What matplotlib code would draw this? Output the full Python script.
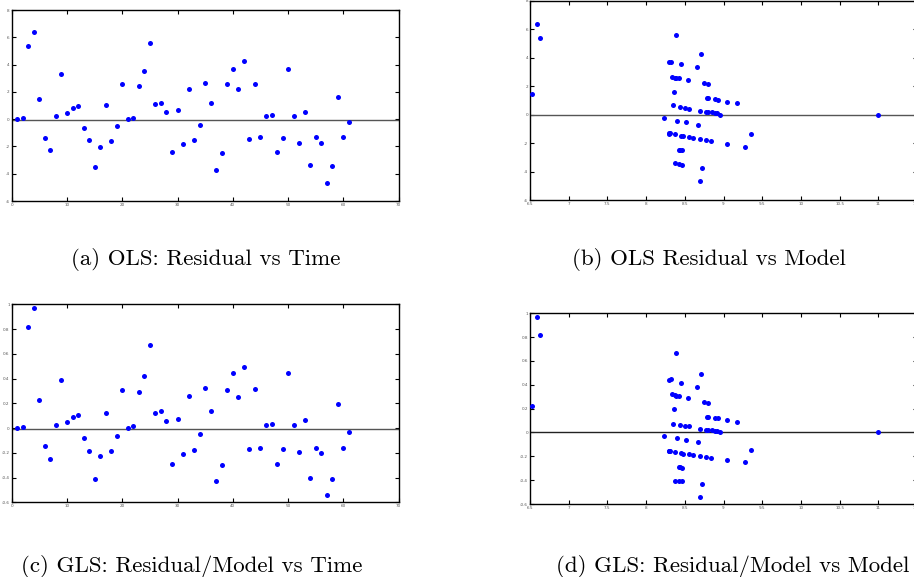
import matplotlib
matplotlib.use('Agg')
import matplotlib.pyplot as plt
import numpy as np
from matplotlib.ticker import FuncFormatter

# time index of the 61 observations
time = list(range(1, 62))

ols_resid = [0.0, 0.1, 5.37, 6.41, 1.49, -1.37, -2.29, 0.2, 3.34, 0.44,
             0.80, 0.93, -0.68, -1.56, -3.49, -2.07, 1.05, -1.61, -0.51, 2.56,
             0.02, 0.12, 2.44, 3.54, 5.61, 1.10, 1.20, 0.49, -2.44, 0.66,
             -1.85, 2.22, -1.49, -0.41, 2.66, 1.20, -3.73, -2.46, 2.59, 3.68,
             2.20, 4.29, -1.46, 2.61, -1.32, 0.22, 0.29, -2.44, -1.37, 3.71,
             0.22, -1.71, 0.56, -3.37, -1.29, -1.78, -4.68, -3.44, 1.63, -1.29,
             -0.24]

gls_resid = [0.0, 0.01, 0.815, 0.973, 0.226, -0.148, -0.247, 0.022, 0.384, 0.051,
             0.089, 0.102, -0.081, -0.183, -0.411, -0.228, 0.118, -0.188, -0.062, 0.304,
             0.003, 0.016, 0.288, 0.417, 0.669, 0.124, 0.134, 0.056, -0.29, 0.075,
             -0.21, 0.255, -0.177, -0.048, 0.32, 0.134, -0.43, -0.296, 0.309, 0.441,
             0.25, 0.492, -0.172, 0.312, -0.159, 0.024, 0.032, -0.29, -0.167, 0.446,
             0.024, -0.196, 0.065, -0.403, -0.159, -0.204, -0.543, -0.409, 0.194, -0.159,
             -0.03]

model = [11.0, 8.92, 6.628, 6.594, 6.526, 9.36, 9.28, 8.85, 8.658, 8.55,
         9.175, 9.04, 8.67, 8.56, 8.46, 9.04, 8.93, 8.60, 8.51, 8.42,
         8.95, 8.885, 8.54, 8.457, 8.38, 8.89, 8.79, 8.50, 8.42, 8.346,
         8.84, 8.75, 8.48, 8.40, 8.33, 8.80, 8.72, 8.46, 8.389, 8.30,
         8.795, 8.709, 8.445, 8.372, 8.30, 8.78, 8.70, 8.44, 8.37, 8.32,
         8.80, 8.69, 8.44, 8.37, 8.31, 8.77, 8.69, 8.43, 8.36, 8.30,
         8.237]

captions = ['(a) OLS: Residual vs Time', '(b) OLS Residual vs Model',
            '(c) GLS: Residual/Model vs Time', '(d) GLS: Residual/Model vs Model']

time_ticks = [0, 10, 20, 30, 40, 50, 60, 70]
model_ticks = [6.5, 7, 7.5, 8, 8.5, 9, 9.5, 10, 10.5, 11, 11.5]
ols_ticks = [-6, -4, -2, 0, 2, 4, 6, 8]
gls_ticks = [-0.6, -0.4, -0.2, 0, 0.2, 0.4, 0.6, 0.8, 1]


def style(ax, xticks, yticks):
    ax.set_xticks(xticks)
    ax.set_yticks(yticks)
    ax.set_xlim(xticks[0], xticks[-1])
    ax.set_ylim(yticks[0], yticks[-1])
    fmt = FuncFormatter(lambda v, p: '%g' % v)
    ax.xaxis.set_major_formatter(fmt)
    ax.yaxis.set_major_formatter(fmt)
    ax.tick_params(direction='in', length=3, width=0.8, labelsize=3,
                   labelcolor='#555555', pad=1.5,
                   top=True, right=True)
    for s in ax.spines.values():
        s.set_linewidth(1.0)


def main():
    fig = plt.figure(figsize=(9.14, 5.77), dpi=100)
    ax_a = fig.add_axes([0.0128, 0.6516, 0.4234, 0.331])
    ax_b = fig.add_axes([0.5799, 0.6529, 0.4234, 0.3454])
    ax_c = fig.add_axes([0.0128, 0.1295, 0.4234, 0.3432])
    ax_d = fig.add_axes([0.5799, 0.1265, 0.4234, 0.3305])

    mk = dict(linestyle='none', marker='o', markersize=3.6, color='#0000ff',
              markeredgewidth=0, zorder=3)

    ax_a.axhline(-0.05, color='#555555', lw=1.0)
    ax_a.plot(time, ols_resid, **mk)
    style(ax_a, time_ticks, ols_ticks)

    ax_b.axhline(0, color='#555555', lw=1.0)
    ax_b.plot(model, ols_resid, **mk)
    style(ax_b, model_ticks, ols_ticks)

    ax_c.axhline(-0.006, color='#555555', lw=1.0)
    ax_c.plot(time, gls_resid, **mk)
    style(ax_c, time_ticks, gls_ticks)

    ax_d.axhline(0, color='#222222', lw=1.0)
    ax_d.plot(model, gls_resid, **mk)
    style(ax_d, model_ticks, gls_ticks)

    cap_pos = [(205.5, 265), (709, 265), (192, 572), (733, 572)]
    for txt, (cx, cy) in zip(captions, cap_pos):
        fig.text(cx / 914, 1 - cy / 577, txt, ha='center', va='baseline',
                 family='cmr10', fontsize=16.5)

    fig.savefig('out.png', dpi=100)
    plt.close(fig)


if __name__ == '__main__':
    main()
